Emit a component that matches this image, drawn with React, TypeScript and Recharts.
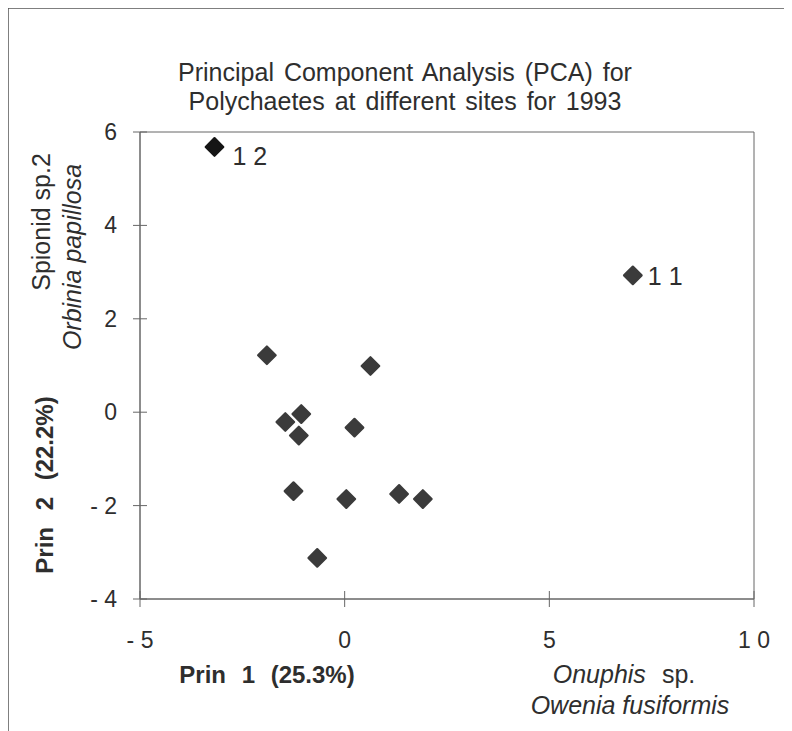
import React from 'react';
import {
  ScatterChart,
  Scatter,
  XAxis,
  YAxis,
  ReferenceArea,
} from 'recharts';

// PCA scores (one entry per site)
const prin1 = [-3.18, 7.04, -1.9, 0.63, -1.06, -1.45, -1.12, 0.24, -1.25, 0.04, 1.33, 1.91, -0.67];
const prin2 = [5.68, 2.93, 1.22, 0.99, -0.04, -0.21, -0.5, -0.33, -1.69, -1.86, -1.75, -1.86, -3.12];
const siteLabels = ['1 2', '1 1', '', '', '', '', '', '', '', '', '', '', ''];

const xTicks = [-5, 0, 5, 10];
const yTicks = [-4, -2, 0, 2, 4, 6];

const titleLines = [
  'Principal Component Analysis (PCA) for',
  'Polychaetes at different sites for 1993',
];

const data = prin1.map((x, i) => ({ x, y: prin2[i], label: siteLabels[i] }));

const FONT = '"Liberation Sans", Arial, Helvetica, sans-serif';
const INK = '#2e2e2e';
const AXIS = '#666';

// old spreadsheet style: "- 2", "1 0"
const fmtTick = (v: number) => {
  const s = String(Math.abs(v)).split('').join(' ');
  return v < 0 ? `- ${s}` : s;
};

const YTick = (props: any) => {
  const { x, y, payload } = props;
  return (
    <g>
      <line x1={x - 7} x2={x + 7} y1={y} y2={y} stroke={AXIS} />
      <text x={x - 23} y={y + 8} textAnchor="end" fontSize={23} fill={INK} fontFamily={FONT}>
        {fmtTick(payload.value)}
      </text>
    </g>
  );
};

const XTick = (props: any) => {
  const { x, y, payload } = props;
  return (
    <g>
      <line x1={x} x2={x} y1={y - 8} y2={y + 8} stroke={AXIS} />
      <text x={x} y={y + 49} textAnchor="middle" fontSize={23} fill={INK} fontFamily={FONT}>
        {fmtTick(payload.value)}
      </text>
    </g>
  );
};

const Diamond = (props: any) => {
  const { cx, cy, payload } = props;
  const r = 8.8;
  const strong = payload.label === '1 2';
  const color = strong ? '#151515' : '#3b3b3b';
  // label offsets for the two named outliers
  const off = strong ? { dx: 18, dy: 18 } : { dx: 15, dy: 10 };
  return (
    <g>
      <path
        d={`M${cx},${cy - r} L${cx + r},${cy} L${cx},${cy + r} L${cx - r},${cy} Z`}
        fill={color}
        stroke={color}
        strokeWidth={2.2}
        strokeLinejoin="round"
      />
      {payload.label ? (
        <text x={cx + off.dx} y={cy + off.dy} fontSize={25} fill={INK} fontFamily={FONT}>
          {payload.label}
        </text>
      ) : null}
    </g>
  );
};

const App: React.FC = () => {
  const W = 784;
  const H = 723;
  return (
    <div style={{ position: 'relative', width: W, height: H, background: '#fff' }}>
      <ScatterChart width={W} height={H} margin={{ top: 124, right: 38, left: 0, bottom: 0 }}>
        <XAxis
          type="number"
          dataKey="x"
          domain={[-5, 10]}
          ticks={xTicks}
          height={132}
          tickSize={0}
          tickMargin={0}
          tickLine={false}
          axisLine={{ stroke: AXIS }}
          tick={<XTick />}
          allowDataOverflow
        />
        <YAxis
          type="number"
          dataKey="y"
          domain={[-4, 6]}
          ticks={yTicks}
          width={132}
          tickSize={0}
          tickMargin={0}
          tickLine={false}
          axisLine={{ stroke: AXIS }}
          tick={<YTick />}
          allowDataOverflow
        />
        <ReferenceArea x1={-5} x2={10} y1={-4} y2={6} fill="none" stroke={AXIS} strokeWidth={1} />
        <Scatter data={data} shape={<Diamond />} isAnimationActive={false} />
      </ScatterChart>
      <svg
        width={W}
        height={H}
        style={{ position: 'absolute', left: 0, top: 0, pointerEvents: 'none', overflow: 'visible' }}
        fontFamily={FONT}
        fill={INK}
      >
        {/* scanned page frame: top and left edges */}
        <line x1={0} x2={W + 8} y1={0} y2={0} stroke="#555" strokeWidth={1.5} />
        <line x1={0} x2={0} y1={0} y2={H + 8} stroke="#555" strokeWidth={1.5} />
        {titleLines.map((t, i) => (
          <text key={t} x={397} y={73 + i * 29} textAnchor="middle" fontSize={25} wordSpacing={3}>
            {t}
          </text>
        ))}
        <text x={259} y={675} textAnchor="middle" fontSize={24} fontWeight="bold" wordSpacing={9}>
          Prin 1 (25.3%)
        </text>
        <text x={616} y={675} textAnchor="middle" fontSize={25}>
          <tspan fontStyle="italic">Onuphis</tspan>
          <tspan dx={16}>sp.</tspan>
        </text>
        <text x={622} y={706} textAnchor="middle" fontSize={25} fontStyle="italic">
          Owenia fusiformis
        </text>
        <text
          transform="translate(45,477) rotate(-90)"
          textAnchor="middle"
          fontSize={24}
          fontWeight="bold"
          wordSpacing={10}
        >
          Prin 2 (22.2%)
        </text>
        <text transform="translate(42,214) rotate(-90)" textAnchor="middle" fontSize={25}>
          Spionid sp.2
        </text>
        <text transform="translate(73,249) rotate(-90)" textAnchor="middle" fontSize={25} fontStyle="italic">
          Orbinia papillosa
        </text>
      </svg>
    </div>
  );
};

export default App;
